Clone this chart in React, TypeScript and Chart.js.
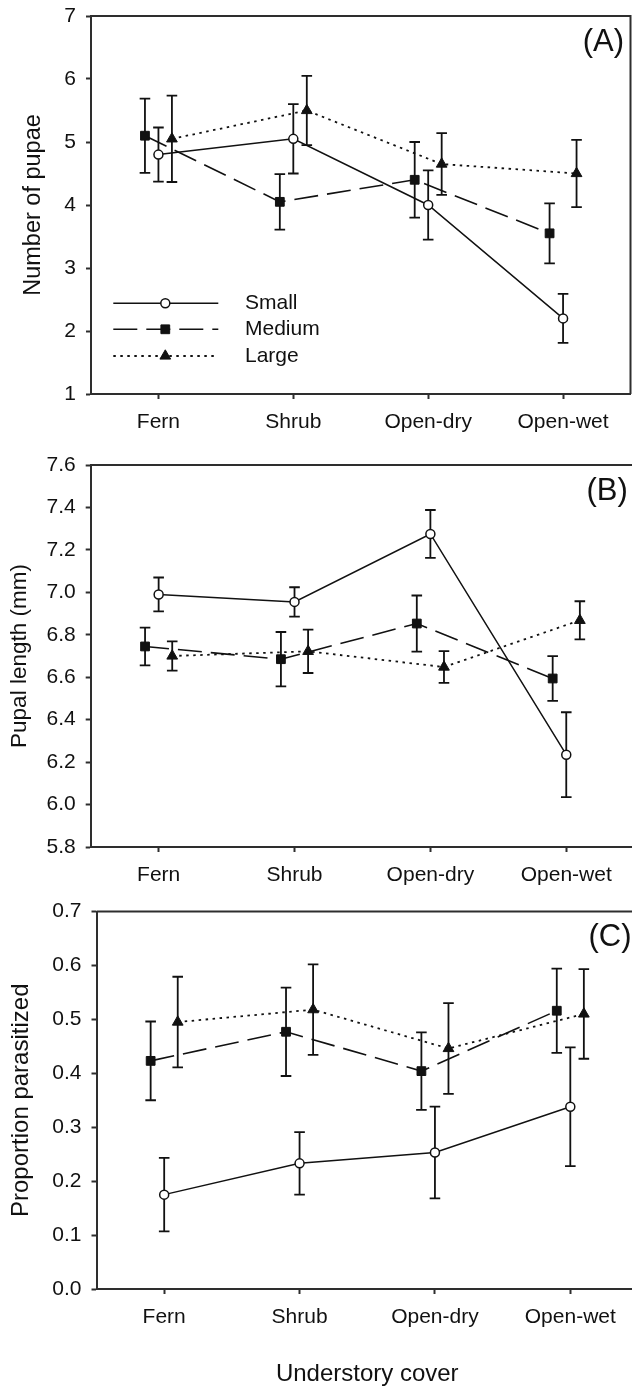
import React, { useEffect, useRef } from 'react';
import { Chart, registerables } from 'chart.js';
import { drawPoint } from 'chart.js/helpers';

Chart.register(...registerables);

// ---------- data ----------
const categories = ['Fern', 'Shrub', 'Open-dry', 'Open-wet'];
const seriesNames = ['Small', 'Medium', 'Large'];

// Panel A: Number of pupae (mean, SE)
const pupaeSmall = [4.8, 5.05, 4.0, 2.2];
const pupaeSmallSE = [0.43, 0.55, 0.55, 0.39];
const pupaeMedium = [5.1, 4.05, 4.4, 3.55];
const pupaeMediumSE = [0.59, 0.44, 0.6, 0.475];
const pupaeLarge = [5.05, 5.5, 4.65, 4.5];
const pupaeLargeSE = [0.685, 0.55, 0.49, 0.535];
const pupaeTicks = [1, 2, 3, 4, 5, 6, 7];

// Panel B: Pupal length (mm)
const lengthSmall = [6.99, 6.955, 7.275, 6.235];
const lengthSmallSE = [0.08, 0.069, 0.113, 0.2];
const lengthMedium = [6.745, 6.685, 6.853, 6.594];
const lengthMediumSE = [0.089, 0.128, 0.132, 0.105];
const lengthLarge = [6.7, 6.722, 6.648, 6.868];
const lengthLargeSE = [0.069, 0.102, 0.075, 0.09];
const lengthTicks = [5.8, 6.0, 6.2, 6.4, 6.6, 6.8, 7.0, 7.2, 7.4, 7.6];

// Panel C: Proportion parasitized
const parasSmall = [0.175, 0.233, 0.253, 0.338];
const parasSmallSE = [0.068, 0.058, 0.085, 0.11];
const parasMedium = [0.423, 0.477, 0.404, 0.516];
const parasMediumSE = [0.073, 0.082, 0.072, 0.078];
const parasLarge = [0.495, 0.518, 0.446, 0.51];
const parasLargeSE = [0.084, 0.084, 0.084, 0.083];
const parasTicks = [0, 0.1, 0.2, 0.3, 0.4, 0.5, 0.6, 0.7];

// ---------- styles ----------
const FONT = "'Liberation Sans', Arial, Helvetica, sans-serif";
const INK = '#111111';
const AXIS = '#2e2e2e';

const seriesStyles = [
  { pointStyle: 'circle', radius: 4.5, bg: '#ffffff', pbw: 1.5, dash: [] as number[], lw: 1.5, offset: 0 },
  { pointStyle: 'rect', radius: 6.2, bg: INK, pbw: 1, dash: [24, 9], lw: 1.6, offset: -0.1 },
  { pointStyle: 'triangle', radius: 6.2, bg: INK, pbw: 1, dash: [2.5, 4.5], lw: 1.8, offset: 0.1 },
];

type PanelDef = {
  means: number[][];
  ses: number[][];
  ticks: number[];
  decimals: number;
  yTitle: string;
  yTitleSize: number;
  yTitlePad: number;
  label: string;
  legend: boolean;
  xTitle: string | null;
  top: number;
  w: number;
  h: number;
  padTop: number;
  padRight: number;
  yWidth: number;
  xHeight: number;
};

const panels: PanelDef[] = [
  {
    means: [pupaeSmall, pupaeMedium, pupaeLarge],
    ses: [pupaeSmallSE, pupaeMediumSE, pupaeLargeSE],
    ticks: pupaeTicks, decimals: 0,
    yTitle: 'Number of pupae', yTitleSize: 23.5, yTitlePad: 19.5,
    label: '(A)', legend: true, xTitle: null,
    top: 0, w: 632, h: 444, padTop: 16, padRight: 1.5, yWidth: 91, xHeight: 50,
  },
  {
    means: [lengthSmall, lengthMedium, lengthLarge],
    ses: [lengthSmallSE, lengthMediumSE, lengthLargeSE],
    ticks: lengthTicks, decimals: 1,
    yTitle: 'Pupal length (mm)', yTitleSize: 22.5, yTitlePad: 6,
    label: '(B)', legend: false, xTitle: null,
    top: 445, w: 636, h: 452, padTop: 20, padRight: 1.8, yWidth: 90.7, xHeight: 50,
  },
  {
    means: [parasSmall, parasMedium, parasLarge],
    ses: [parasSmallSE, parasMediumSE, parasLargeSE],
    ticks: parasTicks, decimals: 1,
    yTitle: 'Proportion parasitized', yTitleSize: 24, yTitlePad: 7,
    label: '(C)', legend: false, xTitle: 'Understory cover',
    top: 897, w: 640, h: 492, padTop: 14.5, padRight: 2, yWidth: 96.5, xHeight: 100,
  },
];

// ---------- plugins ----------
const framePlugin = {
  id: 'frame',
  afterDraw(chart: any) {
    const { ctx, chartArea } = chart;
    ctx.save();
    ctx.strokeStyle = AXIS;
    ctx.lineWidth = 2;
    ctx.beginPath();
    ctx.moveTo(chartArea.left, chartArea.top);
    ctx.lineTo(chartArea.right, chartArea.top);
    ctx.lineTo(chartArea.right, chartArea.bottom);
    ctx.stroke();
    ctx.restore();
  },
};

const errorBarPlugin = {
  id: 'errorBars',
  beforeDatasetsDraw(chart: any) {
    const { ctx } = chart;
    const xs = chart.scales.x;
    const ys = chart.scales.y;
    ctx.save();
    ctx.strokeStyle = INK;
    ctx.lineWidth = 1.8;
    ctx.setLineDash([]);
    chart.data.datasets.forEach((ds: any) => {
      ds.data.forEach((pt: any, i: number) => {
        const e = ds.errors[i];
        const px = xs.getPixelForValue(pt.x);
        const top = ys.getPixelForValue(pt.y + e);
        const bot = ys.getPixelForValue(pt.y - e);
        const cap = 5.3;
        ctx.beginPath();
        ctx.moveTo(px, top);
        ctx.lineTo(px, bot);
        ctx.moveTo(px - cap, top);
        ctx.lineTo(px + cap, top);
        ctx.moveTo(px - cap, bot);
        ctx.lineTo(px + cap, bot);
        ctx.stroke();
      });
    });
    ctx.restore();
  },
};

const panelLabelPlugin = {
  id: 'panelLabel',
  afterDraw(chart: any, _args: any, opts: any) {
    const { ctx, chartArea } = chart;
    ctx.save();
    ctx.fillStyle = INK;
    ctx.font = `31px ${FONT}`;
    ctx.textAlign = 'right';
    ctx.textBaseline = 'middle';
    ctx.fillText(opts.text, chartArea.right - 6.5, chartArea.top + 26);
    ctx.restore();
  },
};

const insideLegendPlugin = {
  id: 'insideLegend',
  afterDatasetsDraw(chart: any, _args: any, opts: any) {
    if (!opts.show) return;
    const { ctx, chartArea } = chart;
    const x0 = chartArea.left + 22.3;
    const x1 = chartArea.left + 127.3;
    const xm = chartArea.left + 74.3;
    const xt = chartArea.left + 154;
    const rows = [chartArea.bottom - 90.7, chartArea.bottom - 64.7, chartArea.bottom - 38];
    chart.data.datasets.forEach((ds: any, i: number) => {
      const y = rows[i];
      ctx.save();
      ctx.strokeStyle = ds.borderColor;
      ctx.lineWidth = ds.borderWidth;
      ctx.setLineDash(ds.borderDash || []);
      ctx.beginPath();
      ctx.moveTo(x0, y);
      ctx.lineTo(x1, y);
      ctx.stroke();
      ctx.setLineDash([]);
      ctx.fillStyle = ds.pointBackgroundColor;
      ctx.strokeStyle = ds.pointBorderColor;
      ctx.lineWidth = ds.pointBorderWidth;
      drawPoint(ctx, { pointStyle: ds.pointStyle, radius: ds.pointRadius, borderWidth: ds.pointBorderWidth, rotation: 0 } as any, xm, y);
      ctx.fillStyle = INK;
      ctx.font = `21px ${FONT}`;
      ctx.textAlign = 'left';
      ctx.textBaseline = 'middle';
      ctx.fillText(ds.label, xt, y);
      ctx.restore();
    });
  },
};

function buildConfig(p: PanelDef): any {
  const datasets = seriesNames.map((name, s) => {
    const st = seriesStyles[s];
    return {
      label: name,
      data: categories.map((_, i) => ({ x: i + 1 + st.offset, y: p.means[s][i] })),
      errors: p.ses[s],
      borderColor: INK,
      borderWidth: st.lw,
      borderDash: st.dash,
      borderCapStyle: 'butt',
      pointStyle: st.pointStyle,
      pointRadius: st.radius,
      pointHoverRadius: st.radius,
      pointBackgroundColor: st.bg,
      pointBorderColor: INK,
      pointBorderWidth: st.pbw,
      pointHoverBorderWidth: st.pbw,
      tension: 0,
      fill: false,
      clip: false,
    };
  });

  const tickFont = { family: FONT, size: 21 };
  const lastTick = p.ticks[p.ticks.length - 1];

  return {
    type: 'line',
    data: { datasets },
    plugins: [errorBarPlugin, framePlugin, panelLabelPlugin, insideLegendPlugin],
    options: {
      responsive: false,
      animation: false,
      events: [],
      layout: {
        autoPadding: false,
        padding: { top: p.padTop, right: p.padRight, left: 0, bottom: 0 },
      },
      plugins: {
        legend: { display: false },
        tooltip: { enabled: false },
        panelLabel: { text: p.label },
        insideLegend: { show: p.legend },
      },
      scales: {
        x: {
          type: 'linear',
          min: 0.5,
          max: categories.length + 0.5,
          afterBuildTicks: (s: any) => {
            s.ticks = categories.map((_, i) => ({ value: i + 1 }));
          },
          afterFit: (s: any) => {
            s.height = p.xHeight;
            s.paddingLeft = 0;
            s.paddingRight = 0;
            s.paddingTop = 0;
            s.paddingBottom = 0;
          },
          ticks: {
            autoSkip: false,
            maxRotation: 0,
            font: tickFont,
            color: INK,
            padding: 11,
            callback: (_v: any, idx: number) => categories[idx],
          },
          grid: {
            display: true,
            drawOnChartArea: false,
            drawTicks: true,
            tickLength: 5,
            tickWidth: 2,
            tickColor: AXIS,
          },
          border: { display: true, width: 2, color: AXIS },
          title: {
            display: !!p.xTitle,
            text: p.xTitle || '',
            font: { family: FONT, size: 24 },
            color: INK,
            padding: { top: 0, bottom: 0 },
          },
        },
        y: {
          type: 'linear',
          min: p.ticks[0],
          max: lastTick,
          afterBuildTicks: (s: any) => {
            s.ticks = p.ticks.map((v) => ({ value: v }));
          },
          afterFit: (s: any) => {
            s.width = p.yWidth;
            s.paddingLeft = 0;
            s.paddingRight = 0;
            s.paddingTop = 0;
            s.paddingBottom = 0;
          },
          ticks: {
            font: tickFont,
            color: INK,
            padding: 10,
            callback: (v: any) => Number(v).toFixed(p.decimals),
          },
          grid: {
            display: true,
            drawOnChartArea: false,
            drawTicks: true,
            tickLength: 5,
            tickWidth: 2,
            tickColor: AXIS,
          },
          border: { display: true, width: 2, color: AXIS },
          title: {
            display: true,
            text: p.yTitle,
            font: { family: FONT, size: p.yTitleSize },
            color: INK,
            padding: { top: p.yTitlePad, bottom: 0 },
          },
        },
      },
    },
  };
}

function Panel({ p }: { p: PanelDef }) {
  const ref = useRef<HTMLCanvasElement | null>(null);
  useEffect(() => {
    if (!ref.current) return;
    const chart = new Chart(ref.current, buildConfig(p));
    return () => chart.destroy();
  }, [p]);
  return (
    <canvas
      ref={ref}
      width={p.w}
      height={p.h}
      style={{ position: 'absolute', left: 0, top: p.top, width: p.w, height: p.h, display: 'block' }}
    />
  );
}

export default function App() {
  return (
    <div
      style={{
        position: 'absolute',
        left: 0,
        top: 0,
        width: 632,
        height: 1389,
        overflow: 'hidden',
        background: '#ffffff',
      }}
    >
      {panels.map((p) => (
        <Panel key={p.label} p={p} />
      ))}
    </div>
  );
}
